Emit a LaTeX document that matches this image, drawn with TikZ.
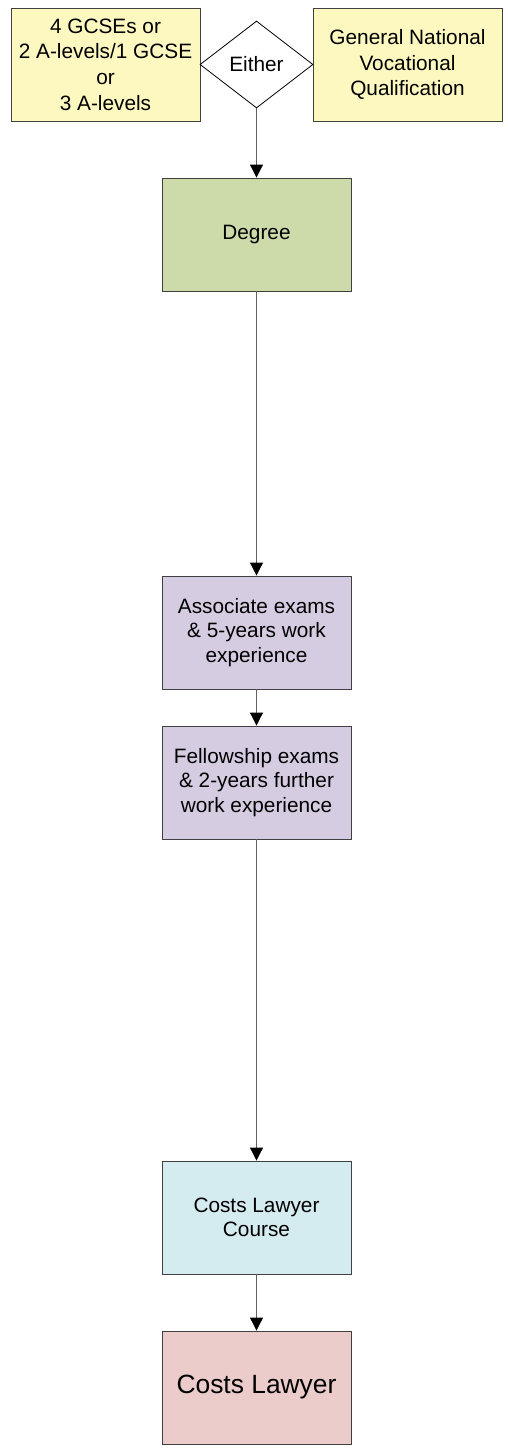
\documentclass[tikz,border=0pt]{standalone}
\usepackage{fontspec}
\setmainfont{Liberation Sans}
\usetikzlibrary{shapes.geometric,arrows.meta}
\definecolor{cyel}{HTML}{FCF8C0}
\definecolor{cgrn}{HTML}{CCDBA9}
\definecolor{cpur}{HTML}{D6CCE1}
\definecolor{ccya}{HTML}{D4EBF0}
\definecolor{cpnk}{HTML}{ECCBCB}
\definecolor{cline}{HTML}{606060}
\definecolor{cbord}{HTML}{404040}
\tikzset{
  x=1pt,y=-1pt,
  box/.style={draw=cbord,line width=0.9pt,minimum width=189pt,minimum height=113pt,inner sep=2pt,align=center,
    font=\fontsize{20.8}{24.5}\selectfont},
  topbox/.style={box,font=\fontsize{20.8}{25.7}\selectfont},
  dec/.style={diamond,draw=black,line width=0.8pt,fill=white,minimum width=113pt,minimum height=87pt,inner sep=0pt,aspect=1.3,
    font=\fontsize{20.8}{24.5}\selectfont},
  conn/.style={draw=cline,line width=1pt,-{Triangle[width=13pt,length=13pt,fill=black,color=black]}}
}
\begin{document}
\begin{tikzpicture}
\useasboundingbox (0,0) rectangle (507,1449);
\node[topbox,fill=cyel] (a) at (105.5,64.5) {4 GCSEs or\\2 A-levels/1 GCSE\\or\\3 A-levels};
\node[topbox,fill=cyel] (b) at (407.5,64.5) {General National\\Vocational\\Qualification};
\node[dec] (e) at (256.5,64.5) {Either};
\node[box,fill=cgrn] (d) at (256.5,234.5) {Degree};
\node[box,fill=cpur] (p1) at (256.5,632.5) {Associate exams\\\& 5-years work\\experience};
\node[box,fill=cpur] (p2) at (256.5,782.5) {Fellowship exams\\\& 2-years further\\work experience};
\node[box,fill=ccya] (c) at (256.5,1217.5) {Costs Lawyer\\Course};
\node[box,fill=cpnk,font=\fontsize{26.4}{30}\selectfont] (l) at (256.5,1387.5) {Costs Lawyer};
\draw[conn] (e.south) -- (d.north);
\draw[conn] (d.south) -- (p1.north);
\draw[conn] (p1.south) -- (p2.north);
\draw[conn] (p2.south) -- (c.north);
\draw[conn] (c.south) -- (l.north);
\end{tikzpicture}
\end{document}
